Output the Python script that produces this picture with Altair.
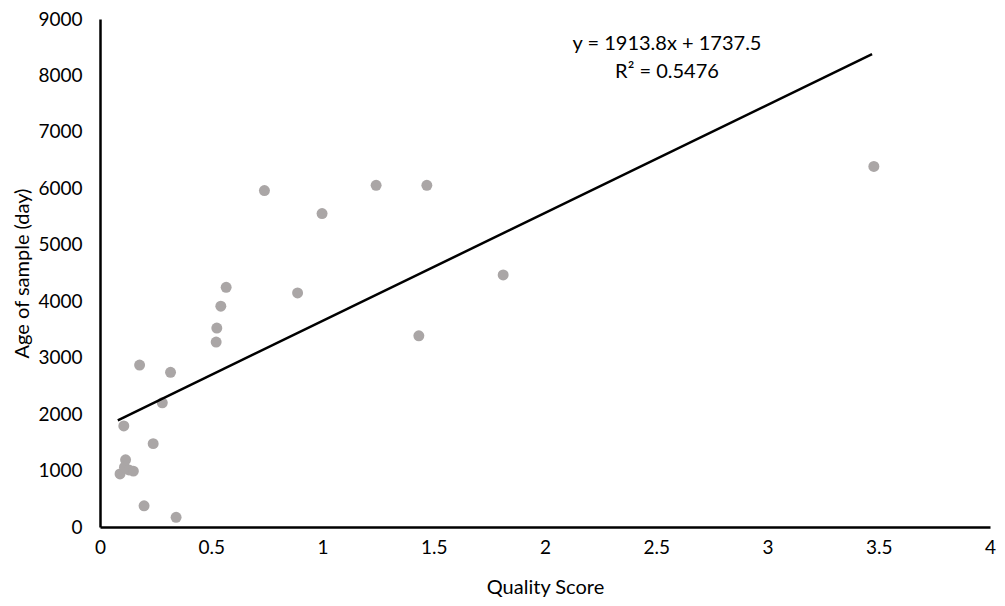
import altair as alt
import pandas as pd

quality = [0.090, 0.107, 0.115, 0.110, 0.130, 0.150, 0.178, 0.198, 0.239, 0.280,
           0.317, 0.342, 0.522, 0.525, 0.543, 0.567, 0.739, 0.888, 0.998, 1.241,
           1.433, 1.469, 1.812, 3.478]
age = [940, 1790, 1190, 1060, 1010, 990, 2870, 376, 1477, 2200,
       2740, 171, 3277, 3524, 3912, 4247, 5960, 4147, 5553, 6053,
       3388, 6053, 4465, 6388]

trend_x = [0.080, 3.470]
trend_y = [1890, 8378]

eq_lines = ["y = 1913.8x + 1737.5", "R² = 0.5476"]

FONT = "Lato"

pts = pd.DataFrame({"q": quality, "a": age})
trend = pd.DataFrame({"q": trend_x, "a": trend_y})

xs = alt.Scale(domain=[0, 4], nice=False, zero=True)
ys = alt.Scale(domain=[0, 9000], nice=False)

xaxis = alt.Axis(title="Quality Score", values=[0, 0.5, 1, 1.5, 2, 2.5, 3, 3.5, 4],
                 format="~g",
                 grid=False, ticks=False, domainColor="black", domainWidth=2.5,
                 labelFont=FONT, labelFontSize=19, labelColor="black", labelPadding=11,
                 titleFont=FONT, titleFontSize=20, titleFontWeight="normal",
                 titleColor="black", titlePadding=20, labelFlush=False)
yaxis = alt.Axis(title="Age of sample (day)", values=list(range(0, 9001, 1000)),
                 format="d",
                 grid=False, ticks=False, domainColor="black", domainWidth=2.5,
                 labelFont=FONT, labelFontSize=19, labelColor="black", labelPadding=18,
                 titleFont=FONT, titleFontSize=20, titleFontWeight="normal",
                 titleColor="black", titlePadding=5, labelFlush=False)

points = alt.Chart(pts).mark_circle(size=120, color="#AAA6A6", opacity=1).encode(
    x=alt.X("q:Q", scale=xs, axis=xaxis),
    y=alt.Y("a:Q", scale=ys, axis=yaxis),
)

line = alt.Chart(trend).mark_line(color="black", strokeWidth=2.5).encode(
    x=alt.X("q:Q", scale=xs),
    y=alt.Y("a:Q", scale=ys),
)

eq1 = alt.Chart(pd.DataFrame({"t": [eq_lines[0]]})).mark_text(
    font=FONT, fontSize=20, color="black", align="center", baseline="middle"
).encode(text="t:N", x=alt.value(567), y=alt.value(25))
eq2 = alt.Chart(pd.DataFrame({"t": [eq_lines[1]]})).mark_text(
    font=FONT, fontSize=20, color="black", align="center", baseline="middle"
).encode(text="t:N", x=alt.value(567), y=alt.value(53))

chart = alt.layer(points, line, eq1, eq2).properties(
    width=890, height=508,
    autosize=alt.AutoSizeParams(type="none"),
    padding={"left": 92, "top": 11, "right": 7, "bottom": 79},
).configure_view(stroke=None)

chart.save("out.html", embed_options={"renderer": "svg", "actions": False})
